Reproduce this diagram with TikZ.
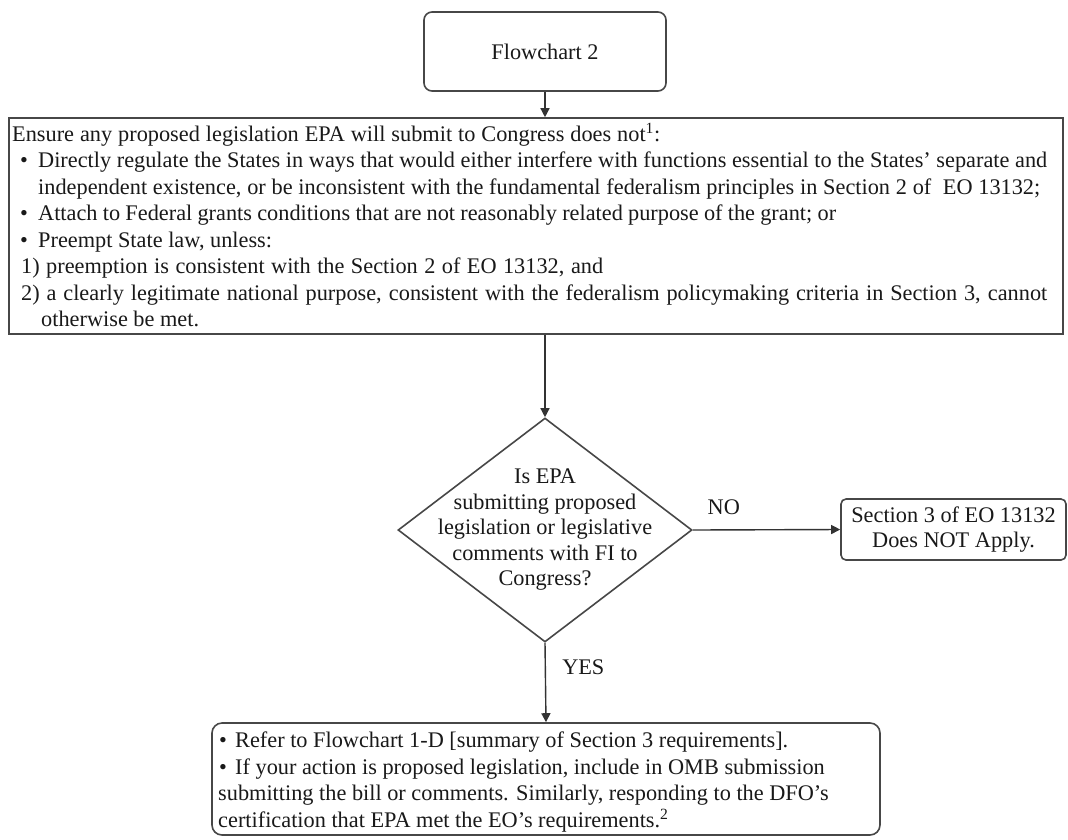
\documentclass[tikz,border=0pt]{standalone}
\usepackage{fontspec}
\setmainfont{Liberation Serif}
\usetikzlibrary{shapes.geometric,arrows.meta,calc}
\newcommand\fitline[2]{{\spaceskip=0.25em plus 2em minus 0.15em\relax\makebox[#1][s]{#2}}}
\begin{document}
\begin{tikzpicture}[x=1pt,y=-1pt,
  every node/.style={font=\fontsize{22.3}{26.5}\selectfont, text=black!90},
  box/.style={draw=black!72, line width=1.6pt, inner sep=0pt},
  txt/.style={inner sep=0pt, align=left},
  conn/.style={draw=black!80, line width=1.4pt, -{Triangle[width=9pt,length=9pt]}},
  lbl/.style={inner sep=0pt}
]
\fill[white] (0,0) rectangle (1068,839);
\useasboundingbox (0,0) rectangle (1068,839);

\node[box, rounded corners=8pt, minimum width=242pt, minimum height=79pt] (fc) at (545,51.5) {Flowchart 2};

\node[box, minimum width=1054pt, minimum height=216pt] (big) at (536,226) {};
\node[txt, anchor=north west] (bigtext) at (12,123) {%
\fitline{648pt}{Ensure any proposed legislation EPA will submit to Congress does not\textsuperscript{1}:}\\
\hspace*{8pt}\makebox[18pt][l]{•}\fitline{1009pt}{Directly regulate the States in ways that would either interfere with functions essential to the States' separate and}\\
\hspace*{26pt}\fitline{1002pt}{independent existence, or be inconsistent with the fundamental federalism principles in Section 2 of~ EO 13132;}\\
\hspace*{8pt}\makebox[18pt][l]{•}\fitline{798pt}{Attach to Federal grants conditions that are not reasonably related purpose of the grant; or}\\
\hspace*{8pt}\makebox[18pt][l]{•}Preempt State law, unless:\\
\hspace*{9pt}\fitline{582pt}{1) preemption is consistent with the Section 2 of EO 13132, and}\\
\hspace*{9pt}\fitline{1026pt}{2) a clearly legitimate national purpose, consistent with the federalism policymaking criteria in Section 3, cannot}\\
\hspace*{29pt}otherwise be met.};

\node[box, diamond, minimum width=294pt, minimum height=224pt] (dec) at (545,530) {};
\node[txt, align=center, font=\fontsize{22.3}{25.5}\selectfont] (dectext) at (dec.center)
  {Is EPA\\submitting proposed\\legislation or legislative\\comments with FI to\\Congress?};

\node[box, rounded corners=5pt, minimum width=225pt, minimum height=61pt, align=center,
  font=\fontsize{22.3}{25}\selectfont] (ns) at (953.5,529.5)
  {Section 3 of EO 13132\\Does NOT Apply.};

\node[box, rounded corners=10pt, minimum width=668pt, minimum height=112pt] (ref) at (546,779) {};
\node[txt, anchor=north west] (reftext) at (218,732) {%
\makebox[17pt][l]{\hspace*{1pt}•}Refer to Flowchart 1-D [summary of Section 3 requirements].\\
\makebox[17pt][l]{\hspace*{1pt}•}If your action is proposed legislation, include in OMB submission\\
submitting the bill or comments. Similarly, responding to the DFO's\\
certification that EPA met the EO's requirements.\textsuperscript{2}};

\draw[conn] (fc.south) -- (fc.south |- big.north);
\draw[conn] (dec.north |- big.south) -- (dec.north);
\draw[conn] (dec.east) -- (ns.west) node[lbl, pos=0.21, yshift=23pt] (no) {NO};
\draw[conn] (dec.south) -- (ref.north) node[lbl, pos=0.31, xshift=38pt] (yes) {YES};
\end{tikzpicture}
\end{document}
